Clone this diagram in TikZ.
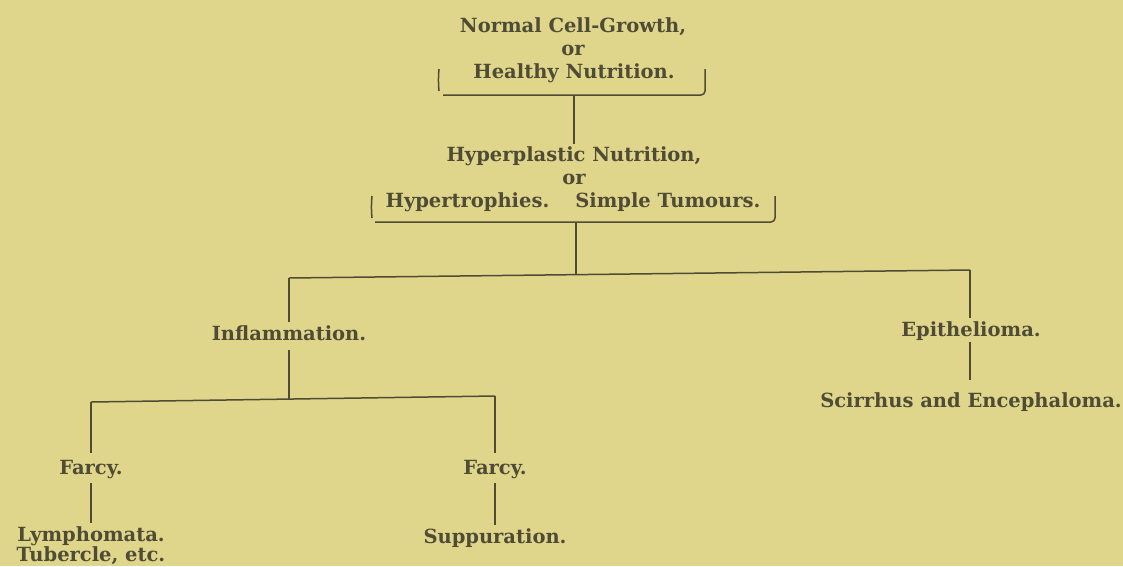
\documentclass[tikz,border=0pt]{standalone}
\usepackage{fontspec}
\setmainfont{DejaVu Serif}
\definecolor{paper}{HTML}{DFD68C}
\definecolor{ink}{HTML}{4F4B34}
\newcommand\lblfont{\fontsize{19.5}{18.5}\selectfont\bfseries}
\begin{document}
\begin{tikzpicture}[x=1pt,y=-1pt,
  lbl/.style={font=\lblfont, text=ink, inner sep=0pt, anchor=base},
  conn/.style={draw=ink, line width=1.5pt}]
\fill[paper] (0,0) rectangle (1123,566);
\useasboundingbox (0,0) rectangle (1123,566);
% top block
\node[lbl] (n1a) at (573,32) {Normal Cell-Growth,};
\node[lbl] (n1b) at (573,55) {or};
\node[lbl] (n1c) at (574,78) {Healthy Nutrition.};
\coordinate (b1M) at (574,95);
\draw[conn] (439,69) to[out=-95,in=95] (439,91);
\draw[conn] (443,95) -- (701,95) to[out=0,in=-90] (705,91) -- (705,69);
% second block
\node[lbl] (n2a) at (574,161) {Hyperplastic Nutrition,};
\node[lbl] (n2b) at (574,184) {or};
\node[lbl] (n2c) at (573,207) {Hypertrophies.\hspace{26pt}Simple Tumours.};
\coordinate (b2M) at (576,222);
\draw[conn] (372,196) to[out=-95,in=95] (372,218);
\draw[conn] (375,222) -- (771,222) to[out=0,in=-90] (775,218) -- (775,196);
\draw[conn, shorten >=2pt] (b1M) -- (b1M |- n2a.north);
% main bar
\coordinate (hL) at (289,278);
\coordinate (hR) at (970,270);
\coordinate (hM) at (576,274);
\draw[conn] (hL) -- (hR);
\draw[conn] (b2M) -- (hM);
% second level
\node[lbl] (inflam) at (289,340) {Inflammation.};
\node[lbl] (epith) at (971,336) {Epithelioma.};
\node[lbl] (scirr) at (971,407) {Scirrhus and Encephaloma.};
\draw[conn, shorten >=3pt] (hL) -- (hL |- inflam.north);
\draw[conn, shorten >=3pt] (hR) -- (hR |- epith.north);
\coordinate (lL) at (91,402);
\coordinate (lR) at (495,396);
\coordinate (lM) at (289,399);
\draw[conn] (lL) -- (lR);
\draw[conn, shorten <=10pt] (lM |- inflam.south) -- (lM);
\draw[conn, shorten <=2pt, shorten >=12pt] (hR |- epith.south) -- (hR |- scirr.north);
% lower level
\node[lbl] (farcyL) at (91,474) {Farcy.};
\node[lbl] (farcyR) at (495,474) {Farcy.};
\node[lbl, anchor=north, align=center, font=\fontsize{19.5}{17}\selectfont\bfseries] (lymph) at (91,526) {Lymphomata.\\Tubercle, etc.};
\node[lbl] (supp) at (495,543) {Suppuration.};
\draw[conn, shorten >=7pt] (lL) -- (lL |- farcyL.north);
\draw[conn, shorten >=7pt] (lR) -- (lR |- farcyR.north);
\draw[conn, shorten <=4pt, shorten >=3pt] (lL |- farcyL.south) -- (lL |- lymph.north);
\draw[conn, shorten <=4pt, shorten >=3pt] (lR |- farcyR.south) -- (lR |- supp.north);
\end{tikzpicture}
\end{document}
